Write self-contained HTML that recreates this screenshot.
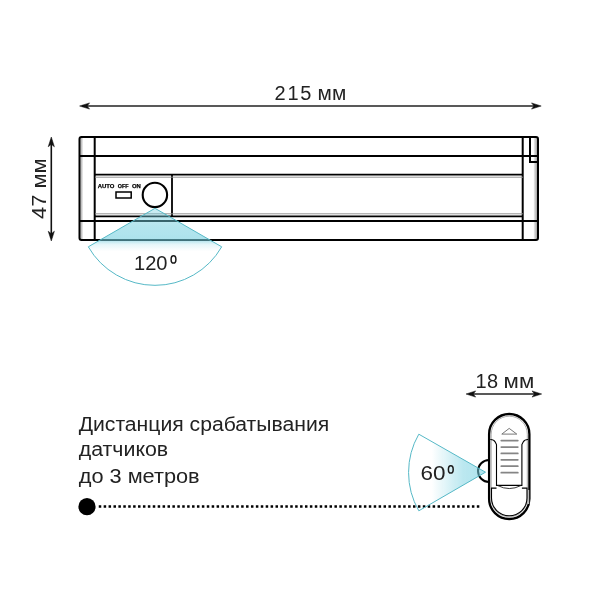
<!DOCTYPE html>
<html><head><meta charset="utf-8">
<style>
html,body{margin:0;padding:0;background:#fff;width:600px;height:600px;overflow:hidden}
svg{display:block;will-change:transform}
text{font-family:"Liberation Sans",sans-serif;fill:#222}
</style></head><body>
<svg width="600" height="600" viewBox="0 0 600 600">
<defs>
<linearGradient id="g120" x1="0" y1="208" x2="0" y2="285" gradientUnits="userSpaceOnUse">
<stop offset="0" stop-color="#74cfe0" stop-opacity="0.36"/>
<stop offset="0.25" stop-color="#74cfe0" stop-opacity="0.54"/>
<stop offset="0.415" stop-color="#74cfe0" stop-opacity="0.6"/>
<stop offset="0.47" stop-color="#74cfe0" stop-opacity="0.2"/>
<stop offset="0.56" stop-color="#74cfe0" stop-opacity="0"/>
<stop offset="1" stop-color="#74cfe0" stop-opacity="0"/>
</linearGradient>
<linearGradient id="g60" x1="408" y1="0" x2="486" y2="0" gradientUnits="userSpaceOnUse">
<stop offset="0" stop-color="#74cfe0" stop-opacity="0"/>
<stop offset="0.3" stop-color="#74cfe0" stop-opacity="0"/>
<stop offset="0.7" stop-color="#74cfe0" stop-opacity="0.48"/>
<stop offset="1" stop-color="#74cfe0" stop-opacity="0.6"/>
</linearGradient>
<linearGradient id="gsl" x1="0" y1="0" x2="1" y2="0"><stop offset="0" stop-color="#a8a8a8"/><stop offset="1" stop-color="#e8e8e8"/></linearGradient>
<linearGradient id="gsr" x1="0" y1="0" x2="1" y2="0"><stop offset="0" stop-color="#ececec"/><stop offset="1" stop-color="#a0a0a0"/></linearGradient>
</defs>

<!-- top dimension arrow -->
<line x1="82" y1="106" x2="538" y2="106" stroke="#222" stroke-width="1.4"/>
<path d="M79.6 106 L89.6 102.9 L87.1 106 L89.6 109.1 Z" fill="#111" stroke="#111" stroke-width="0.5" stroke-linejoin="round"/>
<path d="M541.2 106 L531.5 102.9 L534 106 L531.5 109.1 Z" fill="#111" stroke="#111" stroke-width="0.5" stroke-linejoin="round"/>
<text x="274.6" y="99.5" font-size="20" textLength="36.8" lengthAdjust="spacing">215</text><text x="317.6" y="99.5" font-size="20" textLength="28.6" lengthAdjust="spacingAndGlyphs">мм</text>

<!-- left vertical arrow -->
<line x1="51.3" y1="140" x2="51.3" y2="238" stroke="#111" stroke-width="1.6"/>
<path d="M51.3 137 L48.2 146.8 L51.3 144.3 L54.4 146.8 Z" fill="#111" stroke="#111" stroke-width="0.5" stroke-linejoin="round"/>
<path d="M51.3 241 L48.2 231.2 L51.3 233.7 L54.4 231.2 Z" fill="#111" stroke="#111" stroke-width="0.5" stroke-linejoin="round"/>
<text transform="translate(45.6 219) rotate(-90)" x="0" y="0" font-size="20" textLength="60.5" lengthAdjust="spacingAndGlyphs">47 мм</text>

<!-- bar -->
<rect x="80.5" y="138" width="2.4" height="101" fill="url(#gsl)"/>
<rect x="533.8" y="138" width="3.4" height="101" fill="url(#gsr)"/>
<g stroke="#000" fill="none">
<rect x="79.5" y="137" width="458.5" height="103" rx="2" stroke-width="2"/>
<line x1="94.7" y1="137" x2="94.7" y2="240" stroke-width="2"/>
<line x1="522.7" y1="137" x2="522.7" y2="240" stroke-width="2"/>
<line x1="79" y1="156" x2="538" y2="156" stroke-width="2"/>
<line x1="79" y1="221" x2="538" y2="221" stroke-width="2"/>
<line x1="95" y1="174.7" x2="523" y2="174.7" stroke-width="1.8"/>
<line x1="95" y1="216.3" x2="523" y2="216.3" stroke-width="1.8"/>
<line x1="172" y1="174.7" x2="172" y2="216.3" stroke-width="1.8"/>
<path d="M530 137 V162 H538" stroke-width="2"/>
<circle cx="154.9" cy="194.9" r="12.2" stroke-width="2.1"/>
<rect x="116" y="192" width="15.2" height="6" stroke-width="1.5"/>
</g>
<line x1="95" y1="177.2" x2="523" y2="177.2" stroke="#8a8a8a" stroke-width="0.9"/>
<line x1="95" y1="213.8" x2="523" y2="213.8" stroke="#8a8a8a" stroke-width="0.9"/>
<text x="97.7" y="187.8" font-size="5.7" font-weight="bold" style="fill:#000;stroke:#000;stroke-width:0.25" textLength="16.7" lengthAdjust="spacingAndGlyphs">AUTO</text>
<text x="117.8" y="187.8" font-size="5.7" font-weight="bold" style="fill:#000;stroke:#000;stroke-width:0.25" textLength="10.8" lengthAdjust="spacingAndGlyphs">OFF</text>
<text x="131.9" y="187.8" font-size="5.7" font-weight="bold" style="fill:#000;stroke:#000;stroke-width:0.25" textLength="8.8" lengthAdjust="spacingAndGlyphs">ON</text>

<!-- 120 fan -->
<path d="M155 208.3 L88.3 246.8 A77 77 0 0 0 221.7 246.8 Z" fill="url(#g120)" stroke="#55b8c6" stroke-width="1"/>
<text x="134" y="269.5" font-size="21" textLength="33.5" lengthAdjust="spacingAndGlyphs">120</text>
<ellipse cx="173.5" cy="259.4" rx="2.4" ry="3.7" fill="none" stroke="#1a1a1a" stroke-width="1.5"/>

<!-- 18 mm -->
<line x1="469" y1="394" x2="539" y2="394" stroke="#222" stroke-width="1.4"/>
<path d="M466 394 L475.7 390.9 L473.2 394 L475.7 397.1 Z" fill="#111" stroke="#111" stroke-width="0.5" stroke-linejoin="round"/>
<path d="M541.7 394 L532 390.9 L534.5 394 L532 397.1 Z" fill="#111" stroke="#111" stroke-width="0.5" stroke-linejoin="round"/>
<text x="475.6" y="387.5" font-size="20" textLength="22.4" lengthAdjust="spacing">18</text><text x="503.6" y="387.5" font-size="20" textLength="30.6" lengthAdjust="spacingAndGlyphs">мм</text>

<!-- text block -->
<text x="78.7" y="431" font-size="19.5" textLength="250.5" lengthAdjust="spacingAndGlyphs">Дистанция срабатывания</text>
<text x="78.7" y="456.3" font-size="19.5" textLength="89.5" lengthAdjust="spacingAndGlyphs">датчиков</text>
<text x="78.7" y="482.5" font-size="19.5" textLength="121" lengthAdjust="spacingAndGlyphs">до 3 метров</text>

<!-- dotted line -->
<circle cx="87" cy="506.7" r="8.6" fill="#000"/>
<line x1="98.75" y1="506.6" x2="480" y2="506.6" stroke="#000" stroke-width="2.5" stroke-dasharray="2.5 2.41"/>

<!-- 60 fan -->
<path d="M489 460 A11 11 0 0 0 489 482" fill="none" stroke="#000" stroke-width="2"/>

<path d="M485.5 472.2 L418.8 434.2 A76.8 76.8 0 0 0 418.8 510.8 Z" fill="url(#g60)" stroke="#55b8c6" stroke-width="1"/>
<text x="420.5" y="479.5" font-size="21" textLength="25" lengthAdjust="spacingAndGlyphs">60</text>
<ellipse cx="450.8" cy="469.4" rx="2.4" ry="3.7" fill="none" stroke="#1a1a1a" stroke-width="1.5"/>

<!-- clip -->
<rect x="489.1" y="414" width="40.3" height="105" rx="20.15" fill="#fff" stroke="#000" stroke-width="2.3"/>
<rect x="491.2" y="416.2" width="36.1" height="100.6" rx="18" fill="none" stroke="#999" stroke-width="0.8"/>
<rect x="527.2" y="490" width="2" height="14" fill="#bbb"/>
<path d="M490.3 439.5 Q493.8 439.4 495.2 442 L496.5 444.6 V485.4 H521.9 V444.6 L523.2 442 Q524.6 439.4 528.2 439.5" fill="none" stroke="#000" stroke-width="1.1"/>
<path d="M497.8 485.6 Q509.3 491.5 520.8 485.6" fill="none" stroke="#222" stroke-width="0.9"/>
<path d="M496.5 488.1 H491.5 V498 A17.75 17.75 0 0 0 527 498 V488.1 H521.9" fill="none" stroke="#000" stroke-width="1.1"/>
<path d="M509.2 428.4 L501.8 434.1 H516.8 Z" fill="none" stroke="#777" stroke-width="1"/>
<g stroke="#858585" stroke-width="1.75" stroke-linecap="round">
<line x1="501.3" y1="440.5" x2="517.8" y2="440.5"/>
<line x1="501.3" y1="447" x2="517.8" y2="447"/>
<line x1="501.3" y1="453.4" x2="517.8" y2="453.4"/>
<line x1="501.3" y1="459.8" x2="517.8" y2="459.8"/>
<line x1="501.3" y1="466.2" x2="517.8" y2="466.2"/>
<line x1="501.3" y1="472.7" x2="517.8" y2="472.7"/>
</g>
</svg>
</body></html>
